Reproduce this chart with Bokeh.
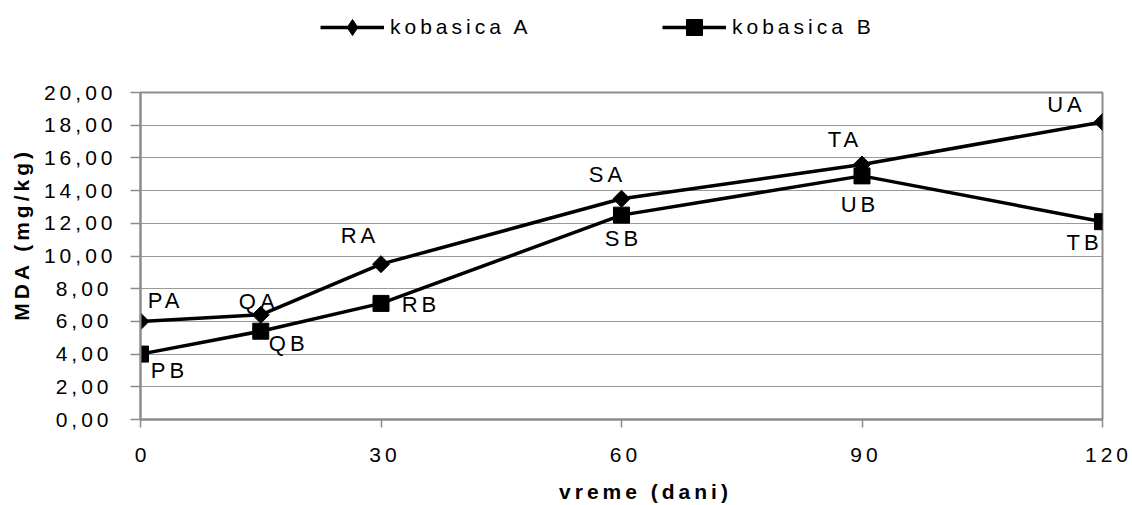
import numpy as np
from bokeh.plotting import figure
from bokeh.layouts import column
from bokeh.models import (ColumnDataSource, Range1d, FixedTicker, Legend, LegendItem,
                          InlineStyleSheet)
from bokeh.core.properties import value
from bokeh.embed import file_html
from bokeh.resources import INLINE

# ---- data ----
days = [0, 15, 30, 60, 90, 120]
kobasica_a = [6.0, 6.4, 9.5, 13.5, 15.6, 18.2]
kobasica_b = [4.0, 5.4, 7.1, 12.5, 14.9, 12.1]
labels_a = ["PA", "QA", "RA", "SA", "TA", "UA"]
labels_b = ["PB", "QB", "RB", "SB", "UB", "TB"]
series_names = ["kobasica A", "kobasica B"]
x_ticks = [0, 30, 60, 90, 120]
y_ticks = [0, 2, 4, 6, 8, 10, 12, 14, 16, 18, 20]
y_tick_labels = ["0,00", "2,00", "4,00", "6,00", "8,00", "10,00",
                 "12,00", "14,00", "16,00", "18,00", "20,00"]
x_title = "vreme (dani)"
y_title = "MDA (mg/kg)"

# ---- label placement (pixel offsets, styling only) ----
dx_a = [21, -6, -25, -18, -21, -40]
dy_a = [-21, -13, -29, -24, -25, -17]
dx_b = [25, 24, 36, -2, -6, -22]
dy_b = [16, 12, 1, 23, 29, 21]

FONT = "Liberation Sans"
GRAY = "#8c8c8c"
TRACKING = InlineStyleSheet(css=":host { letter-spacing: 4px; }")

src_a = ColumnDataSource(dict(x=days, y=kobasica_a, lab=labels_a, dx=dx_a, dy=dy_a))
src_b = ColumnDataSource(dict(x=days, y=kobasica_b, lab=labels_b, dx=dx_b, dy=dy_b))

W = 1132
H = 505
LEG_H = 50

# ---------- main chart ----------
p = figure(width=W, height=H - LEG_H, output_backend="svg", toolbar_location=None,
           x_range=Range1d(0, 120), y_range=Range1d(0, 20),
           min_border_left=140, min_border_right=30, min_border_top=92 - LEG_H,
           min_border_bottom=85)
p.background_fill_color = "white"
p.border_fill_color = "white"
p.outline_line_color = GRAY
p.outline_line_width = 2
p.stylesheets = [TRACKING]

la = p.line("x", "y", source=src_a, line_color="black", line_width=3.5)
ma = p.scatter("x", "y", source=src_a, marker="square", angle=np.pi / 4, size=12,
               fill_color="black", line_color="black")
lb = p.line("x", "y", source=src_b, line_color="black", line_width=3.5)
mb = p.scatter("x", "y", source=src_b, marker="square", size=16,
               fill_color="black", line_color="black")

for src in (src_a, src_b):
    p.text("x", "y", text="lab", source=src, x_offset="dx", y_offset="dy",
           text_align="center", text_baseline="middle",
           text_font=value(FONT), text_font_size="22px", text_color="black")

p.xaxis.ticker = FixedTicker(ticks=x_ticks)
p.yaxis.ticker = FixedTicker(ticks=y_ticks)
p.yaxis.major_label_overrides = {t: s for t, s in zip(y_ticks, y_tick_labels)}
for ax in (p.xaxis, p.yaxis):
    ax.axis_line_color = GRAY
    ax.axis_line_width = 2
    ax.major_tick_line_color = GRAY
    ax.major_tick_line_width = 1.5
    ax.major_tick_in = 0
    ax.minor_tick_line_color = None
    ax.major_label_text_font = FONT
    ax.major_label_text_font_size = "21px"
    ax.major_label_text_color = "black"
    ax.axis_label_text_font = FONT
    ax.axis_label_text_font_size = "21px"
    ax.axis_label_text_font_style = "bold"
    ax.axis_label_text_color = "black"
p.xaxis.major_tick_out = 8
p.yaxis.major_tick_out = 10
p.xaxis.major_label_standoff = 20
p.yaxis.major_label_standoff = 34
p.xaxis.axis_label = x_title
p.yaxis.axis_label = y_title
p.xaxis.axis_label_standoff = 15
p.yaxis.axis_label_standoff = 8
p.xgrid.grid_line_color = None
p.ygrid.grid_line_color = "#9a9a9a"
p.ygrid.grid_line_width = 1

# ---------- legend strip (its renderers use the same data, scrolled out of view) ----------
lg = figure(width=W, height=LEG_H, output_backend="svg", toolbar_location=None,
            x_range=Range1d(1000, 1001), y_range=Range1d(1000, 1001),
            x_axis_location=None, y_axis_location=None,
            min_border_left=0, min_border_right=0, min_border_top=0, min_border_bottom=0,
            outline_line_color=None)
lg.grid.visible = False
lg.stylesheets = [TRACKING]
kl_a = lg.line("x", "y", source=src_a, line_color="black", line_width=3.5)
km_a = lg.scatter("x", "y", source=src_a, marker="diamond", size=22,
                  fill_color="black", line_color="black")
kl_b = lg.line("x", "y", source=src_b, line_color="black", line_width=3.5)
km_b = lg.scatter("x", "y", source=src_b, marker="square", size=16,
                  fill_color="black", line_color="black")
legend = Legend(items=[LegendItem(label=series_names[0], renderers=[kl_a, km_a]),
                       LegendItem(label=series_names[1], renderers=[kl_b, km_b])],
                orientation="horizontal", location=(180, 3),
                padding=0, margin=0, spacing=125, glyph_width=64, glyph_height=40,
                label_standoff=6, label_width=147, label_height=20,
                label_text_font=FONT, label_text_font_size="21px",
                label_text_color="black",
                border_line_color=None, background_fill_alpha=0)
lg.add_layout(legend, "center")

layout = column(lg, p, spacing=0)
open("out.html", "w").write(file_html(layout, INLINE))
